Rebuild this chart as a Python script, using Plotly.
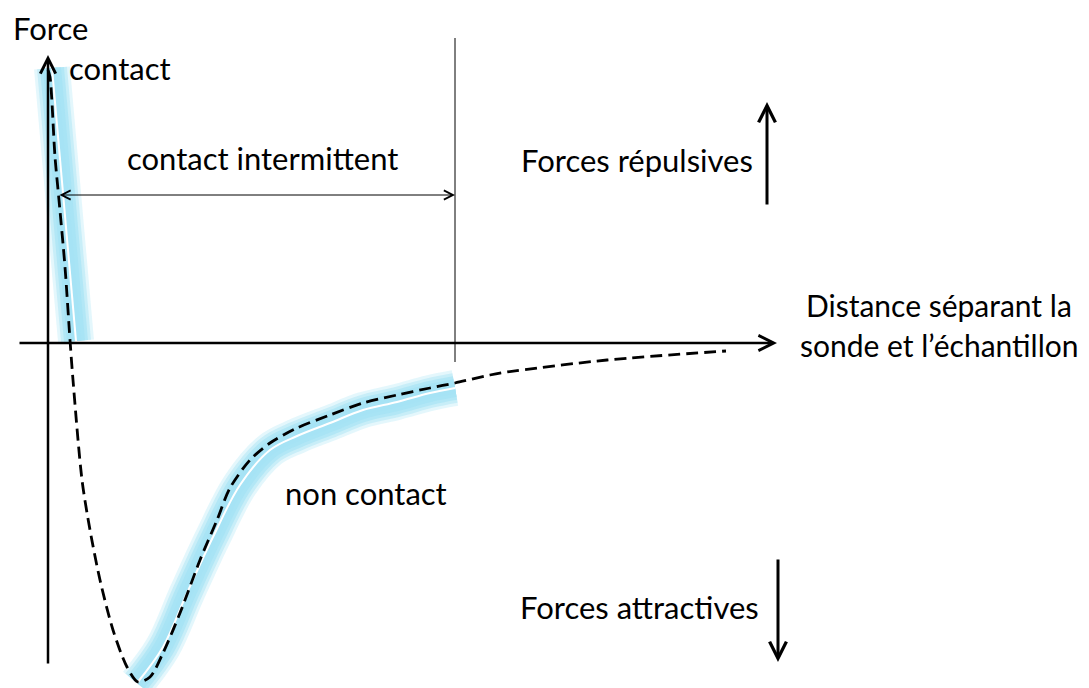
import plotly.graph_objects as go

# force-distance curve (arbitrary units: distance d, force f)
curve_d = [0.00, 0.02, 0.07, 0.11, 0.17, 0.22, 0.25, 0.34, 0.42, 0.52, 0.65, 0.79, 0.90,
           1.02, 1.15, 1.32, 1.52, 1.69, 1.82, 2.02, 2.22, 2.49, 2.82, 3.15, 3.49, 3.82,
           4.07, 4.42, 4.59, 5.59, 6.78]
curve_f = [2.73, 2.66, 1.86, 1.43, 0.76, 0.03, -0.37, -1.37, -1.87, -2.37, -2.87, -3.24, -3.39,
           -3.34, -3.10, -2.70, -2.17, -1.77, -1.45, -1.17, -1.00, -0.85, -0.72, -0.60, -0.52, -0.45,
           -0.40, -0.32, -0.29, -0.17, -0.08]

# highlighted regimes
contact_d = [0.04, 0.28]
contact_f = [2.75, 0.02]
noncontact_d = [0.89, 1.15, 1.39, 1.65, 1.92, 2.22, 2.49, 2.82, 3.15, 3.49, 3.82, 4.07]
noncontact_f = [-3.40, -3.04, -2.50, -1.94, -1.42, -1.07, -0.93, -0.80, -0.67, -0.59, -0.50, -0.45]

limit_d = 4.07  # end of intermittent-contact zone

FONT = "Lato, 'Open Sans', sans-serif"

fig = go.Figure()

# soft blue glow + white core along the two regimes
glow = [(36, "rgba(166,227,245,0.3)"), (30, "rgba(166,227,245,0.45)"),
        (24, "rgba(166,227,245,0.65)"), (18, "rgba(166,227,245,0.85)"), (11, "rgba(166,227,245,1)")]
for xs, ys in [(contact_d, contact_f), (noncontact_d, noncontact_f)]:
    for w, c in glow:
        fig.add_trace(go.Scatter(x=xs, y=ys, mode="lines", line=dict(color=c, width=w, shape="spline"),
                                 hoverinfo="skip"))
    fig.add_trace(go.Scatter(x=xs, y=ys, mode="lines", line=dict(color="white", width=2, shape="spline"),
                             hoverinfo="skip"))

# dashed force curve
fig.add_trace(go.Scatter(x=curve_d, y=curve_f, mode="lines",
                         line=dict(color="black", width=2.8, dash="12px,6px", shape="spline", smoothing=0.8)))

# thin vertical limit line
fig.add_shape(type="line", x0=limit_d, x1=limit_d, y0=-0.19, y1=3.05, line=dict(color="black", width=1))


def arrow(x, y, ax, ay, width, size, side="end"):
    fig.add_annotation(x=x, y=y, ax=ax, ay=ay, xref="x", yref="y", axref="x", ayref="y",
                       text="", showarrow=True, arrowhead=5, startarrowhead=5, arrowside=side,
                       arrowwidth=width, arrowsize=size, startarrowsize=size, arrowcolor="black")


# axes
arrow(7.29, 0.0, -0.30, 0.0, 2.5, 1.2)
arrow(0.0, 2.88, 0.0, -3.22, 2.5, 1.2)
# intermittent contact span
arrow(limit_d, 1.48, 0.10, 1.48, 1, 1.8, side="end+start")
# repulsive / attractive arrows
arrow(7.19, 2.41, 7.19, 1.37, 3, 1.1)
arrow(7.30, -3.19, 7.30, -2.15, 3, 1.1)


def label(x, y, t, anchor="center", size=31):
    fig.add_annotation(x=x, y=y, xref="x", yref="y", text=t, showarrow=False, xanchor=anchor,
                       yanchor="middle", font=dict(family=FONT, size=size, color="black"))


label(-0.37, 3.15, "Force", "left")
label(0.19, 2.75, "contact", "left")
label(2.14, 1.85, "contact intermittent")
label(5.89, 1.83, "Forces répulsives")
label(8.91, 0.38, "Distance séparant la", size=30)
label(8.91, -0.02, "sonde et l’échantillon", size=30)
label(3.18, -1.50, "non contact")
label(5.91, -2.64, "Forces attractives")

# the page adds an 8px body margin, so the figure is 8px smaller and the ranges shifted
fig.update_layout(
    width=1081, height=680,
    margin=dict(l=0, r=0, t=0, b=0),
    plot_bgcolor="white", paper_bgcolor="white",
    showlegend=False,
    xaxis=dict(range=[-0.40, 10.41], visible=False, fixedrange=True),
    yaxis=dict(range=[-3.45, 3.35], visible=False, fixedrange=True),
)

fig.write_html("out.html")
